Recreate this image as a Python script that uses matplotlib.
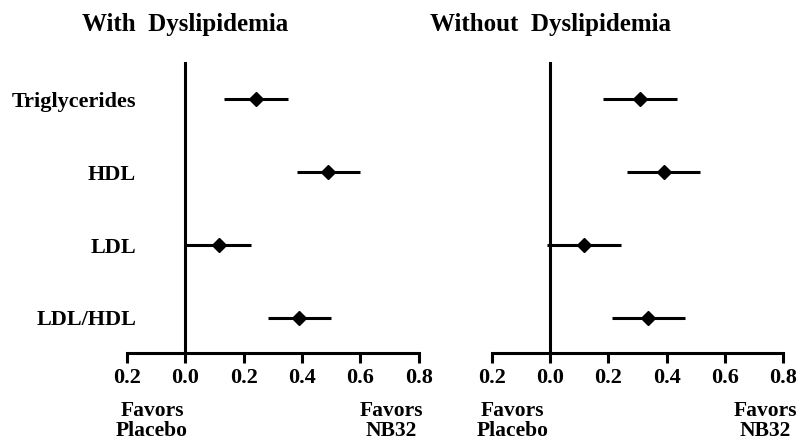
import matplotlib
matplotlib.use("Agg")
import matplotlib.pyplot as plt
import matplotlib.transforms as mtransforms

plt.rcParams['font.family'] = ['Liberation Serif', 'DejaVu Serif']
plt.rcParams['font.weight'] = 'bold'

# lipid outcomes, top to bottom
outcomes = ['Triglycerides', 'HDL', 'LDL', 'LDL/HDL']
rows = [4, 3, 2, 1]

# effect estimates and 95% CI, with dyslipidemia
with_est = [0.242, 0.490, 0.114, 0.390]
with_lo = [0.134, 0.383, 0.000, 0.282]
with_hi = [0.353, 0.600, 0.224, 0.500]

# without dyslipidemia
without_est = [0.307, 0.390, 0.116, 0.337]
without_lo = [0.181, 0.264, -0.010, 0.211]
without_hi = [0.435, 0.516, 0.244, 0.465]

xticks = [-0.2, 0.0, 0.2, 0.4, 0.6, 0.8]
xticklabels = ['0.2', '0.0', '0.2', '0.4', '0.6', '0.8']

W, H = 800, 443
fig = plt.figure(figsize=(W / 100, H / 100), dpi=100)


def panel(rect, title, est, lo, hi, show_names, favor_left, favor_right):
    ax = fig.add_axes(rect)
    xerr = [[e - l for e, l in zip(est, lo)], [h - e for e, h in zip(est, hi)]]
    ax.errorbar(est, rows, xerr=xerr, fmt='D', color='black', ms=7,
                elinewidth=2.2, capsize=0, zorder=3)
    ax.axvline(0, color='black', lw=2.2)
    ax.set_xlim(-0.2, 0.8)
    ax.set_ylim(0.52, 4.51)
    for s in ['top', 'right', 'left']:
        ax.spines[s].set_visible(False)
    ax.spines['bottom'].set_linewidth(2.2)
    ax.set_xticks(xticks)
    ax.set_xticklabels(xticklabels, fontsize=16, fontweight='bold')
    ax.tick_params(axis='x', direction='out', length=7, width=2.2, pad=4)
    if show_names:
        ax.set_yticks(rows)
        ax.set_yticklabels(outcomes, fontsize=16, fontweight='bold')
        ax.tick_params(axis='y', length=0, pad=-6.5)
    else:
        ax.set_yticks([])

    tr = mtransforms.blended_transform_factory(ax.transData, fig.transFigure)
    ax.text(0, 1 - 25 / H, title, transform=tr, ha='center', va='center',
            fontsize=18, fontweight='bold')
    ax.text(favor_left, 1 - 421.5 / H, 'Favors\nPlacebo', transform=tr,
            ha='center', va='center', fontsize=15.5, fontweight='bold',
            linespacing=1.0)
    ax.text(favor_right, 1 - 421.5 / H, 'Favors\nNB32', transform=tr,
            ha='center', va='center', fontsize=15.5, fontweight='bold',
            linespacing=1.0)
    return ax


bottom = (H - 353) / H
height = (353 - 62) / H
panel([127 / W, bottom, 291.7 / W, height], 'With  Dyslipidemia',
      with_est, with_lo, with_hi, True, -0.114, 0.706)
panel([492.3 / W, bottom, 290.4 / W, height], 'Without  Dyslipidemia',
      without_est, without_lo, without_hi, False, -0.129, 0.74)

fig.savefig('out.png', dpi=100)
